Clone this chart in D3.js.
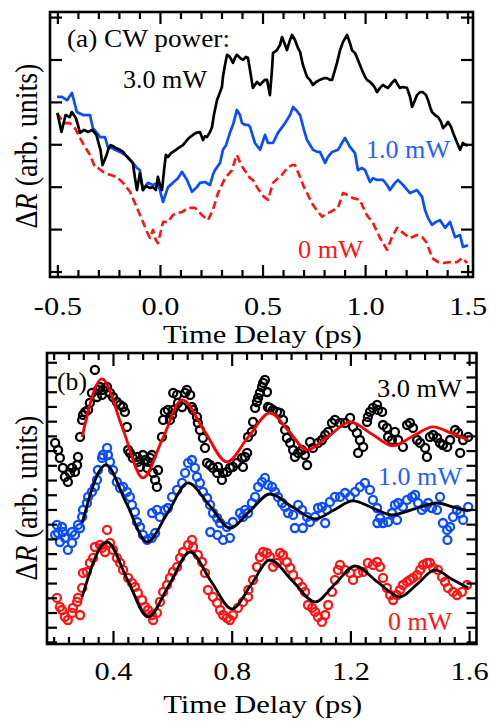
<!DOCTYPE html>
<html><head><meta charset="utf-8">
<script src="https://cdn.jsdelivr.net/npm/d3@7"></script>
<style>html,body{margin:0;padding:0;background:#fff;} svg{display:block;}</style>
</head><body>
<svg id="c" width="489" height="723"></svg>
<script>
// ---------------- Panel (a) data: [time (ps), ΔR (arb. units)] ----------------
const aPower3 = [[-0.50,3.74],[-0.48,3.29],[-0.46,3.69],[-0.44,3.64],[-0.43,3.76],[-0.41,3.62],[-0.40,3.46],[-0.39,3.27],[-0.37,3.34],[-0.35,3.29],[-0.33,3.34],[-0.31,3.22],[-0.29,2.87],[-0.28,2.51],[-0.26,2.75],[-0.25,2.91],[-0.24,2.98],[-0.23,2.96],[-0.215,2.91],[-0.195,2.87],[-0.18,2.82],[-0.16,2.70],[-0.146,2.63],[-0.132,2.56],[-0.122,2.21],[-0.112,1.92],[-0.098,2.32],[-0.083,1.92],[-0.068,2.02],[-0.049,1.97],[-0.034,1.99],[-0.020,1.92],[-0.010,2.23],[0,2.04],[0.010,1.92],[0.020,2.39],[0.029,2.75],[0.039,2.70],[0.054,2.79],[0.063,2.82],[0.078,2.87],[0.098,2.94],[0.112,2.98],[0.132,3.10],[0.146,3.17],[0.161,3.22],[0.176,3.27],[0.195,3.29],[0.210,3.10],[0.219,3.19],[0.229,3.17],[0.244,3.29],[0.254,3.41],[0.263,3.69],[0.278,4.04],[0.293,4.23],[0.302,4.35],[0.307,4.59],[0.317,4.87],[0.327,5.11],[0.341,5.06],[0.356,4.92],[0.366,5.04],[0.375,5.11],[0.390,5.04],[0.405,4.99],[0.419,5.06],[0.429,5.04],[0.439,4.75],[0.453,4.33],[0.463,4.40],[0.473,4.47],[0.488,4.40],[0.497,4.45],[0.512,4.52],[0.522,4.52],[0.536,4.16],[0.546,4.75],[0.551,5.15],[0.570,5.22],[0.585,5.34],[0.595,5.53],[0.610,5.34],[0.619,5.22],[0.634,5.46],[0.644,5.58],[0.658,5.46],[0.673,5.27],[0.683,5.18],[0.697,4.87],[0.717,4.59],[0.731,4.52],[0.746,4.40],[0.761,4.47],[0.780,4.52],[0.800,4.56],[0.814,4.56],[0.829,4.52],[0.839,4.52],[0.853,4.75],[0.863,4.92],[0.878,5.22],[0.892,5.41],[0.912,5.58],[0.926,5.39],[0.936,5.22],[0.951,5.15],[0.961,5.04],[0.975,4.87],[0.985,4.75],[1.000,4.59],[1.009,4.52],[1.024,4.47],[1.039,4.40],[1.048,4.33],[1.058,4.23],[1.073,4.33],[1.087,4.40],[1.102,4.35],[1.112,4.33],[1.131,4.45],[1.146,4.52],[1.160,4.40],[1.170,4.33],[1.185,4.35],[1.204,4.33],[1.219,4.12],[1.229,3.88],[1.243,4.04],[1.253,4.16],[1.268,4.23],[1.282,4.23],[1.297,4.16],[1.307,4.04],[1.317,3.88],[1.326,3.76],[1.341,3.69],[1.356,3.64],[1.370,3.53],[1.380,3.38],[1.395,3.46],[1.404,3.53],[1.419,3.41],[1.429,3.27],[1.443,3.10],[1.463,2.87],[1.477,3.03],[1.492,2.98],[1.502,2.98]];

const aPower1 = [[-0.502,4.12],[-0.478,4.12],[-0.453,4.04],[-0.429,4.21],[-0.414,3.93],[-0.405,3.76],[-0.375,3.69],[-0.341,3.69],[-0.327,3.38],[-0.307,3.27],[-0.293,3.17],[-0.268,3.17],[-0.254,2.94],[-0.234,2.91],[-0.219,2.87],[-0.195,2.82],[-0.171,2.75],[-0.156,2.70],[-0.132,2.56],[-0.112,2.44],[-0.098,2.39],[-0.083,1.92],[-0.059,2.09],[-0.034,2.04],[-0.010,2.09],[0.015,1.64],[0.039,1.99],[0.063,2.09],[0.088,2.20],[0.107,2.35],[0.132,2.16],[0.156,1.88],[0.180,1.99],[0.195,2.09],[0.219,2.11],[0.244,2.04],[0.258,2.28],[0.268,2.39],[0.293,2.56],[0.307,2.87],[0.322,2.98],[0.341,3.27],[0.356,3.46],[0.375,3.81],[0.390,3.69],[0.400,3.50],[0.414,3.46],[0.429,3.46],[0.439,3.41],[0.463,3.03],[0.488,2.87],[0.512,3.22],[0.527,3.03],[0.551,3.03],[0.575,3.27],[0.610,3.50],[0.634,3.69],[0.649,3.88],[0.663,3.81],[0.683,3.69],[0.702,3.34],[0.717,3.10],[0.746,2.87],[0.766,2.82],[0.780,2.82],[0.805,2.56],[0.819,2.70],[0.839,2.82],[0.868,2.87],[0.887,3.03],[0.902,3.15],[0.926,2.94],[0.951,2.79],[0.965,2.39],[0.985,2.44],[1.000,2.39],[1.024,2.11],[1.039,2.20],[1.058,2.16],[1.087,2.16],[1.107,2.04],[1.121,1.92],[1.146,2.09],[1.160,2.16],[1.185,2.04],[1.219,1.85],[1.253,1.92],[1.278,1.76],[1.292,1.45],[1.307,1.26],[1.326,1.10],[1.346,1.17],[1.365,1.21],[1.390,1.03],[1.414,1.17],[1.438,0.81],[1.463,0.86],[1.477,0.58],[1.502,0.62]];

const aPower0 = [[-0.502,3.74],[-0.478,3.57],[-0.463,3.50],[-0.439,3.50],[-0.414,3.38],[-0.390,3.15],[-0.366,2.94],[-0.341,2.75],[-0.317,2.46],[-0.307,2.46],[-0.278,2.35],[-0.244,2.28],[-0.210,2.23],[-0.180,2.09],[-0.146,1.88],[-0.112,1.50],[-0.083,1.17],[-0.063,0.93],[-0.049,0.79],[-0.034,0.98],[-0.020,0.74],[-0.010,0.67],[0.000,0.86],[0.015,1.17],[0.039,1.17],[0.063,1.33],[0.083,1.38],[0.107,1.40],[0.137,1.50],[0.171,1.50],[0.205,1.33],[0.234,1.21],[0.258,1.45],[0.283,1.85],[0.317,2.20],[0.351,2.39],[0.366,2.63],[0.375,2.75],[0.390,2.58],[0.405,2.44],[0.419,2.35],[0.439,2.20],[0.453,2.16],[0.473,1.99],[0.488,1.88],[0.507,1.76],[0.527,1.69],[0.551,2.09],[0.575,2.20],[0.595,2.28],[0.624,2.46],[0.644,2.51],[0.658,2.51],[0.683,2.23],[0.702,1.99],[0.717,1.85],[0.741,1.61],[0.756,1.50],[0.790,1.29],[0.809,1.36],[0.829,1.40],[0.848,1.45],[0.868,1.50],[0.892,1.85],[0.917,1.80],[0.941,1.73],[0.975,1.69],[0.990,1.52],[1.009,1.33],[1.039,1.14],[1.073,0.79],[1.107,0.51],[1.131,0.81],[1.156,1.03],[1.185,0.91],[1.219,0.79],[1.253,0.86],[1.278,0.81],[1.302,0.67],[1.326,0.32],[1.356,0.22],[1.380,0.20],[1.414,0.22],[1.448,0.22],[1.473,0.32],[1.497,0.20]];

const aXMajor = [-0.5, 0, 0.5, 1.0, 1.5];
const aXLabels = ["-0.5", "0.0", "0.5", "1.0", "1.5"];
const aYTicks = [0, 1, 2, 3, 4, 5, 6];

// ---------------- Panel (b) data ----------------
const bData3 = [[0.205,13.52],[0.215,13.04],[0.221,12.50],[0.231,11.82],[0.238,11.21],[0.248,10.87],[0.255,11.48],[0.262,11.82],[0.272,11.55],[0.279,12.02],[0.282,12.57],[0.289,13.93],[0.296,15.08],[0.299,15.42],[0.306,15.63],[0.316,15.76],[0.322,16.24],[0.329,16.92],[0.339,18.48],[0.346,16.64],[0.349,17.12],[0.356,17.32],[0.363,16.78],[0.366,17.12],[0.380,17.32],[0.390,16.92],[0.400,16.64],[0.413,16.30],[0.424,16.10],[0.434,15.96],[0.440,15.63],[0.447,14.61],[0.451,13.04],[0.457,12.84],[0.467,12.50],[0.481,12.57],[0.484,12.23],[0.491,11.89],[0.501,12.70],[0.508,12.36],[0.515,11.82],[0.518,12.23],[0.525,12.50],[0.531,12.70],[0.535,11.48],[0.542,11.01],[0.548,10.53],[0.552,11.68],[0.565,13.93],[0.569,15.08],[0.575,15.63],[0.585,15.76],[0.592,15.08],[0.599,15.42],[0.602,15.76],[0.603,16.92],[0.616,16.78],[0.619,16.24],[0.633,15.96],[0.643,16.92],[0.649,17.12],[0.660,16.78],[0.666,15.96],[0.670,15.76],[0.683,15.29],[0.686,14.88],[0.693,14.40],[0.703,13.86],[0.710,13.18],[0.717,12.16],[0.727,12.02],[0.737,11.82],[0.751,11.48],[0.754,11.89],[0.767,11.01],[0.771,11.48],[0.784,11.55],[0.794,11.82],[0.804,11.89],[0.818,12.16],[0.835,12.50],[0.838,11.89],[0.845,12.57],[0.852,12.84],[0.855,13.93],[0.868,14.27],[0.872,14.95],[0.879,15.90],[0.885,16.30],[0.889,16.58],[0.895,16.92],[0.902,17.32],[0.906,17.60],[0.912,17.80],[0.919,16.98],[0.922,15.96],[0.929,15.90],[0.939,15.76],[0.953,15.63],[0.963,15.56],[0.973,15.08],[0.980,14.40],[0.986,13.86],[0.997,13.52],[1.007,13.04],[1.013,12.57],[1.024,12.84],[1.037,13.04],[1.047,12.70],[1.054,12.02],[1.064,13.59],[1.074,13.18],[1.091,13.52],[1.104,13.72],[1.115,14.06],[1.125,14.27],[1.138,14.88],[1.148,15.08],[1.165,14.88],[1.182,14.88],[1.199,15.22],[1.209,14.61],[1.222,14.20],[1.226,12.84],[1.232,13.72],[1.243,13.25],[1.256,14.95],[1.259,15.29],[1.266,15.63],[1.276,15.90],[1.290,16.10],[1.293,15.76],[1.307,15.63],[1.310,14.74],[1.323,14.54],[1.327,13.93],[1.340,13.72],[1.350,14.27],[1.361,13.72],[1.377,13.25],[1.391,14.74],[1.401,14.88],[1.411,14.54],[1.425,13.72],[1.435,13.52],[1.452,13.18],[1.458,12.57],[1.468,13.93],[1.479,14.06],[1.492,13.86],[1.502,13.52],[1.512,13.38],[1.526,13.25],[1.536,13.72],[1.553,14.40],[1.563,14.20],[1.570,12.84],[1.580,13.72],[1.597,13.93]];

const bData1 = [[0.205,7.27],[0.211,7.95],[0.215,7.40],[0.221,6.79],[0.228,7.81],[0.231,7.47],[0.238,7.07],[0.248,6.25],[0.262,6.73],[0.262,7.47],[0.272,7.27],[0.282,7.95],[0.289,7.74],[0.296,8.49],[0.299,8.97],[0.312,9.44],[0.316,9.85],[0.329,10.19],[0.339,10.53],[0.346,11.01],[0.349,11.68],[0.363,12.50],[0.366,12.70],[0.380,13.18],[0.383,12.70],[0.390,12.23],[0.400,11.68],[0.413,10.87],[0.424,10.46],[0.434,10.53],[0.447,10.19],[0.457,9.85],[0.464,9.31],[0.474,8.83],[0.481,8.15],[0.491,7.81],[0.501,7.27],[0.515,6.93],[0.531,7.07],[0.532,8.76],[0.542,7.40],[0.548,8.97],[0.558,8.49],[0.575,8.97],[0.585,9.10],[0.599,9.85],[0.616,10.33],[0.633,10.80],[0.643,11.48],[0.653,12.16],[0.666,12.36],[0.676,11.82],[0.683,11.21],[0.693,10.80],[0.703,10.19],[0.717,9.78],[0.727,9.31],[0.728,7.47],[0.737,8.76],[0.751,8.42],[0.752,7.27],[0.761,8.08],[0.771,6.93],[0.784,7.81],[0.794,7.07],[0.804,8.15],[0.828,8.76],[0.838,8.49],[0.845,8.97],[0.855,8.76],[0.868,9.44],[0.879,9.85],[0.889,10.53],[0.902,10.87],[0.912,11.14],[0.922,10.67],[0.936,10.53],[0.946,10.19],[0.956,9.85],[0.970,9.44],[0.980,9.17],[0.990,8.76],[1.007,8.63],[1.013,7.74],[1.024,9.31],[1.037,8.97],[1.040,7.74],[1.054,8.49],[1.064,8.15],[1.081,8.49],[1.091,9.10],[1.104,9.17],[1.115,8.08],[1.121,8.97],[1.131,9.51],[1.148,9.85],[1.165,9.85],[1.182,10.12],[1.199,9.85],[1.216,10.19],[1.232,10.53],[1.249,10.80],[1.266,10.33],[1.276,9.65],[1.290,9.10],[1.291,8.08],[1.300,8.42],[1.310,8.08],[1.327,8.15],[1.340,8.76],[1.350,9.31],[1.357,8.29],[1.361,9.44],[1.377,9.17],[1.391,9.65],[1.408,9.85],[1.418,9.99],[1.428,9.44],[1.441,8.97],[1.452,9.17],[1.462,9.44],[1.475,9.10],[1.492,8.97],[1.502,9.85],[1.512,8.08],[1.526,7.61],[1.527,6.93],[1.536,7.81],[1.546,8.49],[1.559,8.97],[1.570,8.76],[1.580,8.29],[1.597,9.17]];

const bData0 = [[0.211,2.99],[0.221,2.38],[0.228,2.17],[0.238,1.70],[0.248,1.49],[0.262,1.97],[0.265,2.31],[0.279,2.72],[0.282,2.99],[0.289,1.83],[0.296,3.67],[0.299,4.69],[0.312,4.76],[0.322,5.37],[0.333,5.71],[0.339,6.45],[0.356,6.59],[0.363,6.39],[0.373,6.11],[0.380,7.61],[0.390,6.73],[0.400,6.25],[0.413,5.71],[0.424,5.37],[0.434,4.89],[0.451,4.35],[0.464,4.01],[0.474,3.74],[0.484,3.33],[0.498,2.85],[0.508,2.38],[0.518,2.17],[0.531,1.83],[0.535,1.49],[0.548,1.97],[0.558,2.72],[0.569,3.40],[0.582,3.87],[0.592,4.35],[0.602,4.76],[0.616,5.10],[0.626,5.71],[0.636,6.11],[0.653,6.59],[0.666,6.93],[0.670,6.45],[0.686,5.91],[0.700,5.43],[0.710,4.69],[0.720,3.53],[0.737,3.06],[0.751,2.65],[0.761,2.17],[0.771,1.83],[0.784,1.63],[0.794,1.49],[0.804,1.83],[0.821,2.31],[0.838,2.72],[0.855,3.06],[0.856,3.53],[0.872,4.21],[0.885,5.10],[0.895,5.77],[0.906,6.11],[0.919,6.05],[0.929,5.77],[0.939,5.10],[0.953,5.37],[0.963,6.05],[0.973,5.91],[0.986,5.43],[0.997,5.03],[1.007,4.55],[1.024,4.08],[1.037,3.74],[1.047,3.40],[1.057,2.51],[1.071,2.31],[1.081,2.04],[1.091,1.70],[1.104,1.36],[1.115,1.83],[1.125,2.51],[1.138,3.40],[1.148,4.21],[1.158,4.89],[1.165,5.23],[1.182,4.89],[1.199,4.69],[1.209,4.21],[1.226,4.69],[1.243,4.76],[1.259,5.37],[1.276,5.23],[1.290,5.43],[1.300,5.10],[1.310,4.35],[1.323,3.67],[1.334,3.19],[1.344,2.85],[1.357,3.19],[1.367,3.53],[1.377,3.87],[1.391,4.08],[1.401,4.21],[1.411,4.35],[1.425,4.55],[1.435,4.89],[1.445,5.23],[1.458,5.37],[1.468,5.37],[1.479,5.03],[1.495,4.89],[1.509,4.42],[1.519,4.08],[1.529,3.67],[1.546,3.40],[1.559,3.19],[1.576,3.40],[1.593,3.87]];

// fitted damped oscillations
const bFit3 = [[0.296,13.93],[0.363,17.87],[0.432,14.54],[0.501,11.14],[0.567,13.79],[0.633,16.44],[0.708,14.33],[0.784,12.23],[0.856,13.93],[0.929,15.56],[0.992,14.33],[1.054,13.04],[1.127,13.99],[1.199,14.95],[1.272,14.13],[1.344,13.32],[1.411,13.99],[1.479,14.61],[1.538,14.20],[1.597,13.72]];
const bFit1 = [[0.296,8.08],[0.376,12.02],[0.446,9.38],[0.515,6.79],[0.584,8.76],[0.653,10.80],[0.724,9.31],[0.794,7.74],[0.862,8.90],[0.929,10.05],[1.005,9.17],[1.081,8.36],[1.145,8.97],[1.209,9.58],[1.275,9.10],[1.340,8.63],[1.416,9.04],[1.492,9.44],[1.545,9.17],[1.597,8.90]];
const bFit0 = [[0.296,3.06],[0.380,6.79],[0.449,4.21],[0.518,1.70],[0.589,3.87],[0.660,6.11],[0.730,4.14],[0.801,2.24],[0.865,3.87],[0.929,5.57],[1.005,4.14],[1.081,2.72],[1.148,3.94],[1.216,5.16],[1.291,4.08],[1.367,3.06],[1.426,3.94],[1.485,4.89],[1.541,4.28],[1.597,3.67]];

const bXMajor = [0.4, 0.8, 1.2, 1.6];
const bXLabels = ["0.4", "0.8", "1.2", "1.6"];
const bYTicks = d3.range(0, 20);

// ---------------- drawing ----------------
const FONT = "'Liberation Serif','Times New Roman',Times,serif";
const BLUE = "#0a4cff", RED = "#ff1414", BLUE_T = "#1f62ff";
const svg = d3.select("#c").style("font-family", FONT);

function stretch(sel, f) {
  sel.each(function () {
    const w = this.getComputedTextLength();
    this.setAttribute("textLength", (w * f).toFixed(2));
    this.setAttribute("lengthAdjust", "spacingAndGlyphs");
  });
}
function fitTo(sel, w) {
  sel.attr("textLength", w).attr("lengthAdjust", "spacingAndGlyphs");
}

function panel(o) {
  const g = svg.append("g");
  const [x0, x1] = o.x.range(), [y0, y1] = o.y.range(); // y0 bottom, y1 top
  const clean = s => { s.select(".domain").remove(); s.selectAll("line").attr("stroke", "#000").attr("stroke-width", 2.2); };
  // x ticks, bottom (inward) and top (inward)
  [[o.xMinor, o.xMinorLen], [o.xMajor, o.xMajorLen]].forEach(([vals, len]) => {
    g.append("g").attr("transform", `translate(0,${y0})`)
      .call(d3.axisTop(o.x).tickValues(vals).tickSize(len).tickFormat("")).call(clean);
    g.append("g").attr("transform", `translate(0,${y1})`)
      .call(d3.axisBottom(o.x).tickValues(vals).tickSize(len).tickFormat("")).call(clean);
  });
  g.append("g").attr("transform", `translate(${x0},0)`)
    .call(d3.axisRight(o.y).tickValues(o.yTicks).tickSize(o.yLen).tickFormat("")).call(clean);
  g.append("g").attr("transform", `translate(${x1},0)`)
    .call(d3.axisLeft(o.y).tickValues(o.yTicks).tickSize(o.yLen).tickFormat("")).call(clean);
  // tick labels
  const lab = g.append("g").attr("transform", `translate(0,${y0})`)
    .call(d3.axisBottom(o.x).tickValues(o.xMajor).tickSize(0).tickFormat((d, i) => o.xLabels[i]));
  lab.select(".domain").remove();
  lab.selectAll("text").attr("y", o.labelBase - y0).attr("dy", null)
    .attr("font-size", 24.5).attr("font-family", FONT).attr("fill", "#000");
  stretch(lab.selectAll("text"), 1.24);
  // frame
  g.append("rect").attr("x", x0).attr("y", y1).attr("width", x1 - x0).attr("height", y0 - y1)
    .attr("fill", "none").attr("stroke", "#000").attr("stroke-width", 2.6);
  // x title
  const xt = g.append("text").attr("x", (x0 + x1) / 2 + 1).attr("y", o.titleBase)
    .attr("text-anchor", "middle").attr("font-size", 26).text("Time Delay (ps)");
  fitTo(xt, 199);
  // y title (rotated, stretched perpendicular to the text)
  const yt = g.append("g").attr("transform", `translate(37,${o.yTitleMid}) scale(1.15,1) rotate(-90)`)
    .append("text").attr("text-anchor", "middle").attr("font-size", 28);
  yt.append("tspan").text("\u0394");
  yt.append("tspan").attr("font-style", "italic").text("R");
  yt.append("tspan").text(" (arb. units)");
  return g;
}

function label(x, y, w, txt, color) {
  const t = svg.append("text").attr("x", x).attr("y", y).attr("font-size", 25).attr("fill", color).text(txt);
  fitTo(t, w);
}

// ---- panel (a)
const xA = d3.scaleLinear().domain([-0.536, 1.526]).range([50, 473]);
const yA = d3.scaleLinear().domain([-0.13, 6.12]).range([277, 12]);
const lineA = d3.line().x(d => xA(d[0])).y(d => yA(d[1]));
const gA = svg.append("g");
gA.append("path").datum(aPower0).attr("d", lineA).attr("fill", "none").attr("stroke", RED)
  .attr("stroke-width", 2.6).attr("stroke-dasharray", "8,4").attr("stroke-linejoin", "round");
gA.append("path").datum(aPower1).attr("d", lineA).attr("fill", "none").attr("stroke", BLUE)
  .attr("stroke-width", 2.7).attr("stroke-linejoin", "round");
gA.append("path").datum(aPower3).attr("d", lineA).attr("fill", "none").attr("stroke", "#000")
  .attr("stroke-width", 2.7).attr("stroke-linejoin", "round");
panel({
  x: xA, y: yA,
  xMajor: aXMajor, xLabels: aXLabels, xMajorLen: 12,
  xMinor: d3.range(-5, 16).map(i => i / 10).filter(v => Math.abs(v * 2 - Math.round(v * 2)) > 1e-6), xMinorLen: 7,
  yTicks: aYTicks, yLen: 12,
  labelBase: 315, titleBase: 343, yTitleMid: 146
});
label(67, 47, 163, "(a) CW power:", "#000");
label(123, 88, 84, "3.0 mW", "#000");
label(366, 158, 84, "1.0 mW", BLUE_T);
label(298, 258, 65, "0 mW", RED);

// ---- panel (b)
const xB = d3.scaleLinear().domain([0.1776, 1.625]).range([47, 476.5]);
const yB = d3.scaleLinear().domain([-0.14, 19.63]).range([644, 353]);
const gB = svg.append("g");
[[bData3, "#000"], [bData1, BLUE], [bData0, RED]].forEach(([data, c]) => {
  gB.append("g").selectAll("circle").data(data).join("circle")
    .attr("cx", d => xB(d[0])).attr("cy", d => yB(d[1])).attr("r", 4)
    .attr("fill", "none").attr("stroke", c).attr("stroke-width", 2.3);
});
const lineB = d3.line().x(d => xB(d[0])).y(d => yB(d[1])).curve(d3.curveMonotoneX);
[[bFit3, "#ff0000"], [bFit1, "#000"], [bFit0, "#000"]].forEach(([data, c]) => {
  gB.append("path").datum(data).attr("d", lineB).attr("fill", "none").attr("stroke", c).attr("stroke-width", 2.8);
});
panel({
  x: xB, y: yB,
  xMajor: bXMajor, xLabels: bXLabels, xMajorLen: 13,
  xMinor: d3.range(4, 33).map(i => i / 20).filter(v => Math.abs(v * 2.5 - Math.round(v * 2.5)) > 1e-6), xMinorLen: 7,
  yTicks: bYTicks, yLen: 10,
  labelBase: 680, titleBase: 713, yTitleMid: 498
});
label(57, 390, 30, "(b)", "#000");
label(377, 397, 85, "3.0 mW", "#000");
label(378, 485, 84, "1.0 mW", BLUE_T);
label(388, 630, 64, "0 mW", RED);
</script></body></html>
